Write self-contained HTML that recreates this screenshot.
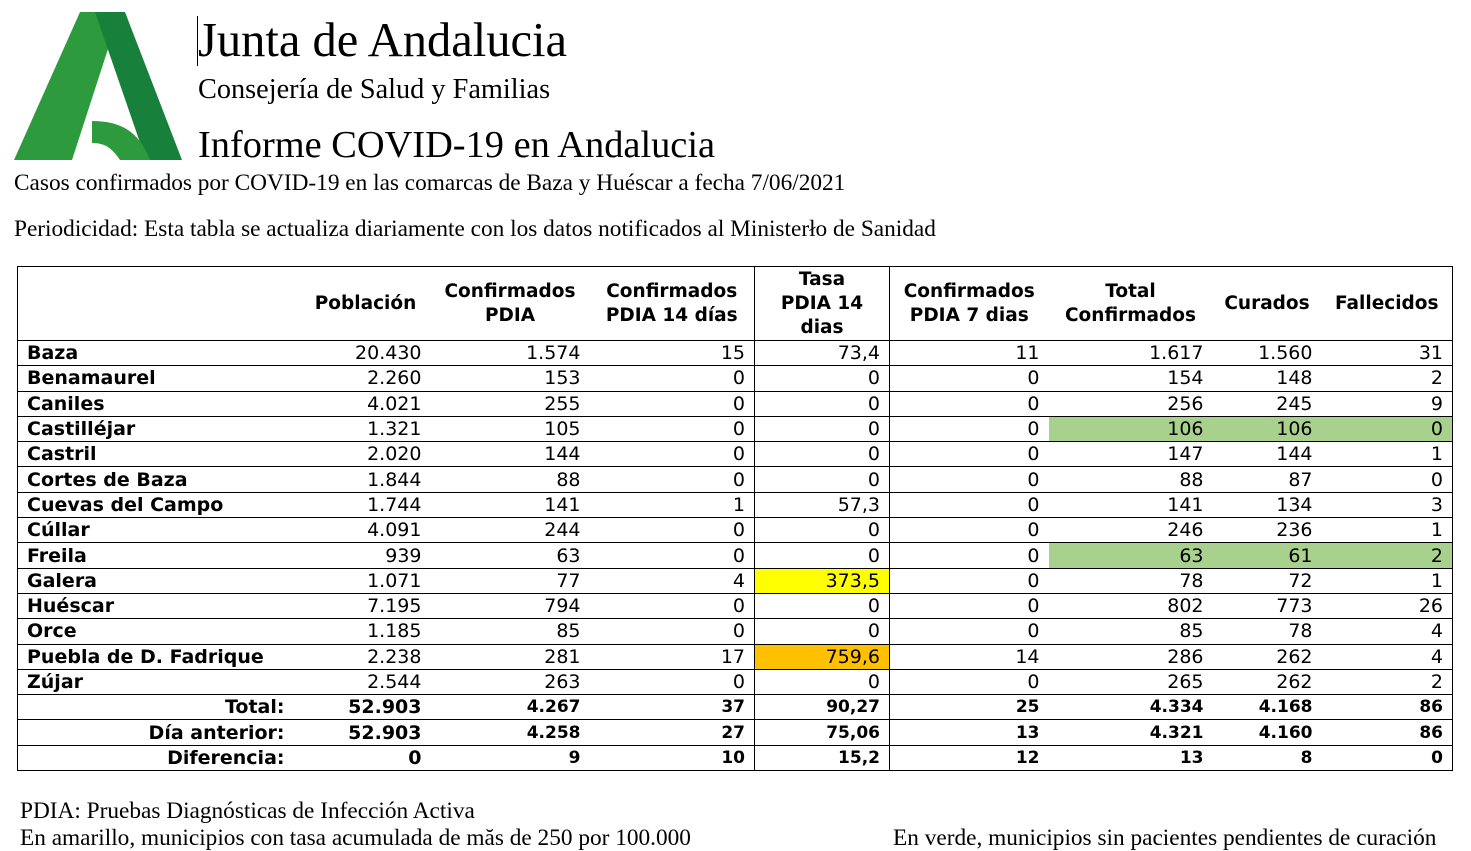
<!DOCTYPE html>
<html><head><meta charset="utf-8">
<style>
body{margin:0;width:1471px;height:850px;background:#fff;position:relative;overflow:hidden;font-family:"Liberation Serif",serif;color:#000}
.t{position:absolute;white-space:nowrap;line-height:1}
table{position:absolute;left:17px;top:266px;border-collapse:collapse;table-layout:fixed;width:1435px;font-family:"DejaVu Sans","Liberation Sans",sans-serif;font-size:19px}
td{border-top:1px solid #000;border-bottom:1px solid #000;padding:0 9px 0 0;text-align:right;height:24.3px;line-height:22px;overflow:hidden;white-space:nowrap}
td:first-child{text-align:left;padding-left:9px;font-weight:bold;border-left:1px solid #000}
td:last-child{border-right:1px solid #000}
td:nth-child(5){border-left:1px solid #000;border-right:1px solid #000}
thead td{font-weight:bold;text-align:center;height:73px;line-height:24px;font-size:18.5px;padding:0 2px}
tr.b td{font-weight:bold}
tr.b td:first-child{text-align:right;padding-right:16px}
.g{background:#a9d18e}.y{background:#ffff00}.o{background:#ffc000}
</style></head><body>
<svg style="position:absolute;left:0;top:0" width="190" height="165">
<polygon points="80,12 120,12 72,160 14,160" fill="#2e9a3e"/>
<polygon points="95,12 125,12 182,160 146,160" fill="#17803a"/>
<path d="M92,121 C125,121 140,135 150,160 L120,160 C112,148 105,143 92,143 Z" fill="#2e9a3e"/>
</svg>
<div class="t" style="left:198px;top:17px;font-size:48.5px">Junta de Andalucia</div>
<div style="position:absolute;left:197px;top:16px;width:1px;height:50px;background:#000"></div>
<div class="t" style="left:198px;top:76px;font-size:28.3px">Consejería de Salud y Familias</div>
<div class="t" style="left:198px;top:126px;font-size:38.4px">Informe COVID-19 en Andalucia</div>
<div class="t" style="left:14px;top:172px;font-size:23.3px">Casos confirmados por COVID-19 en las comarcas de Baza y Huéscar a fecha 7/06/2021</div>
<div class="t" style="left:14px;top:218px;font-size:23.3px">Periodicidad: Esta tabla se actualiza diariamente con los datos notificados al Ministerło de Sanidad</div>
<table>
<colgroup><col style="width:283px"><col style="width:130px"><col style="width:159px"><col style="width:165px"><col style="width:135px"><col style="width:159px"><col style="width:164px"><col style="width:109px"><col style="width:131px"></colgroup>
<thead><tr><td></td><td>Población</td><td>Confirmados<br>PDIA</td><td>Confirmados<br>PDIA 14 días</td><td>Tasa<br>PDIA 14<br>dias</td><td>Confirmados<br>PDIA 7 dias</td><td>Total<br>Confirmados</td><td>Curados</td><td>Fallecidos</td></tr></thead>
<tbody>
<tr><td>Baza</td><td>20.430</td><td>1.574</td><td>15</td><td>73,4</td><td>11</td><td>1.617</td><td>1.560</td><td>31</td></tr>
<tr><td>Benamaurel</td><td>2.260</td><td>153</td><td>0</td><td>0</td><td>0</td><td>154</td><td>148</td><td>2</td></tr>
<tr><td>Caniles</td><td>4.021</td><td>255</td><td>0</td><td>0</td><td>0</td><td>256</td><td>245</td><td>9</td></tr>
<tr><td>Castilléjar</td><td>1.321</td><td>105</td><td>0</td><td>0</td><td>0</td><td class="g">106</td><td class="g">106</td><td class="g">0</td></tr>
<tr><td>Castril</td><td>2.020</td><td>144</td><td>0</td><td>0</td><td>0</td><td>147</td><td>144</td><td>1</td></tr>
<tr><td>Cortes de Baza</td><td>1.844</td><td>88</td><td>0</td><td>0</td><td>0</td><td>88</td><td>87</td><td>0</td></tr>
<tr><td>Cuevas del Campo</td><td>1.744</td><td>141</td><td>1</td><td>57,3</td><td>0</td><td>141</td><td>134</td><td>3</td></tr>
<tr><td>Cúllar</td><td>4.091</td><td>244</td><td>0</td><td>0</td><td>0</td><td>246</td><td>236</td><td>1</td></tr>
<tr><td>Freila</td><td>939</td><td>63</td><td>0</td><td>0</td><td>0</td><td class="g">63</td><td class="g">61</td><td class="g">2</td></tr>
<tr><td>Galera</td><td>1.071</td><td>77</td><td>4</td><td class="y">373,5</td><td>0</td><td>78</td><td>72</td><td>1</td></tr>
<tr><td>Huéscar</td><td>7.195</td><td>794</td><td>0</td><td>0</td><td>0</td><td>802</td><td>773</td><td>26</td></tr>
<tr><td>Orce</td><td>1.185</td><td>85</td><td>0</td><td>0</td><td>0</td><td>85</td><td>78</td><td>4</td></tr>
<tr><td>Puebla de D. Fadrique</td><td>2.238</td><td>281</td><td>17</td><td class="o">759,6</td><td>14</td><td>286</td><td>262</td><td>4</td></tr>
<tr><td>Zújar</td><td>2.544</td><td>263</td><td>0</td><td>0</td><td>0</td><td>265</td><td>262</td><td>2</td></tr>
<tr class="b"><td>Total:</td><td>52.903</td><td style="font-size:17px">4.267</td><td style="font-size:17px">37</td><td style="font-size:17px">90,27</td><td style="font-size:17px">25</td><td style="font-size:17px">4.334</td><td style="font-size:17px">4.168</td><td style="font-size:17px">86</td></tr>
<tr class="b"><td>Día anterior:</td><td>52.903</td><td style="font-size:17px">4.258</td><td style="font-size:17px">27</td><td style="font-size:17px">75,06</td><td style="font-size:17px">13</td><td style="font-size:17px">4.321</td><td style="font-size:17px">4.160</td><td style="font-size:17px">86</td></tr>
<tr class="b"><td>Diferencia:</td><td>0</td><td style="font-size:17px">9</td><td style="font-size:17px">10</td><td style="font-size:17px">15,2</td><td style="font-size:17px">12</td><td style="font-size:17px">13</td><td style="font-size:17px">8</td><td style="font-size:17px">0</td></tr>
</tbody></table>
<div class="t" style="left:20px;top:800px;font-size:23.3px">PDIA: Pruebas Diagnósticas de Infección Activa</div>
<div class="t" style="left:20px;top:827px;font-size:23.3px">En amarillo, municipios con tasa acumulada de măs de 250 por 100.000</div>
<div class="t" style="left:893px;top:827px;font-size:23.3px">En verde, municipios sin pacientes pendientes de curación</div>
</body></html>
